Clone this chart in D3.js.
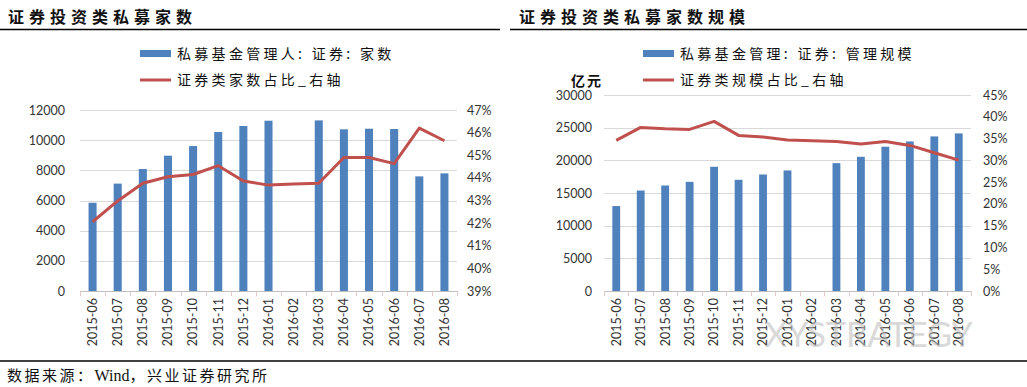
<!DOCTYPE html>
<html><head><meta charset="utf-8">
<script src="https://cdn.jsdelivr.net/npm/d3@7"></script>
<style>body{margin:0;background:#fff;} svg{display:block;}</style>
</head><body>
<svg id="c" width="1027" height="387"></svg>
<script>
const months = ["2015-06","2015-07","2015-08","2015-09","2015-10","2015-11","2015-12","2016-01","2016-02","2016-03","2016-04","2016-05","2016-06","2016-07","2016-08"];
const leftCount = [5850,7120,8090,8970,9610,10540,10940,11290,null,11310,10720,10760,10740,7600,7800];
const leftShare = [42.06,42.98,43.76,44.05,44.15,44.54,43.86,43.68,43.73,43.76,44.9,44.9,44.63,46.2,45.64];
const rightScale = [13000,15380,16150,16710,19010,17020,17830,18450,null,19570,20540,22080,22890,23660,24120];
const rightShare = [34.57,37.56,37.26,37.1,38.94,35.72,35.34,34.65,34.5,34.34,33.73,34.34,33.42,31.74,30.05];
const leftTicks = [0,2000,4000,6000,8000,10000,12000];
const leftPctTicks = [39,40,41,42,43,44,45,46,47];
const rightTicks = [0,5000,10000,15000,20000,25000,30000];
const rightPctTicks = [0,5,10,15,20,25,30,35,40,45];

const svg = d3.select("#c");
const BLUE = "#4F81BD", RED = "#C0504D";
const CJK = "'Noto Sans CJK SC', sans-serif";
const NUM = "Lato, 'Open Sans', sans-serif";

function panel(o){
  const g = svg.append("g");
  g.append("text").attr("x", o.titleX).attr("y", 23).attr("font-family", CJK).attr("font-weight", "bold")
    .attr("font-size", 16).attr("letter-spacing", 5).attr("fill", "#111").text(o.title);
  g.append("line").attr("x1", o.lineX1).attr("x2", o.lineX2).attr("y1", 29.5).attr("y2", 29.5)
    .attr("stroke", "#000").attr("stroke-width", 1.5);
  g.append("rect").attr("x", o.legX).attr("y", 50).attr("width", 31).attr("height", 7).attr("fill", BLUE);
  g.append("text").attr("x", o.legX + 37).attr("y", 59).attr("font-family", CJK).attr("font-size", 14)
    .attr("letter-spacing", 3.3).attr("fill", "#111").text(o.leg1);
  g.append("line").attr("x1", o.legX).attr("x2", o.legX + 31).attr("y1", 80).attr("y2", 80)
    .attr("stroke", RED).attr("stroke-width", 3);
  g.append("text").attr("x", o.legX + 37).attr("y", 85).attr("font-family", CJK).attr("font-size", 14)
    .attr("letter-spacing", 3.3).attr("fill", "#111").text(o.leg2);

  const x = d3.scaleBand().domain(months).range([o.x0, o.x1]).paddingInner(0.68).paddingOuter(0.34);
  const xc = d3.scaleBand().domain(months).range([o.x0, o.x1]);
  const y = d3.scaleLinear().domain(o.yDom).range([o.yb, o.yt]);
  const y2 = d3.scaleLinear().domain(o.y2Dom).range([o.yb, o.yt]);

  g.append("g").selectAll("line").data(o.yTicks.slice(1)).join("line")
    .attr("x1", o.x0).attr("x2", o.x1).attr("y1", d => Math.round(y(d)) + 0.5).attr("y2", d => Math.round(y(d)) + 0.5)
    .attr("stroke", "#D9D9D9").attr("stroke-width", 1);

  const ya = d3.axisLeft(y).tickValues(o.yTicks).tickSize(0).tickPadding(0).tickFormat(d3.format("d"));
  const yag = g.append("g").attr("transform", `translate(${o.yLabelX},0)`).call(ya);
  yag.select(".domain").remove();
  yag.selectAll("text").attr("font-family", NUM).attr("font-size", 12.5).attr("fill", "#333");

  const ya2 = d3.axisRight(y2).tickValues(o.y2Ticks).tickSize(0).tickPadding(0).tickFormat(d => d + "%");
  const ya2g = g.append("g").attr("transform", `translate(${o.y2LabelX},0)`).call(ya2);
  ya2g.select(".domain").remove();
  ya2g.selectAll("text").attr("font-family", NUM).attr("font-size", 12.5).attr("fill", "#333");

  g.append("g").selectAll("rect").data(months.map((m, i) => ({m, v: o.bars[i]})).filter(d => d.v != null)).join("rect")
    .attr("x", d => x(d.m)).attr("width", x.bandwidth())
    .attr("y", d => y(d.v)).attr("height", d => y(0) - y(d.v)).attr("fill", BLUE);

  const xa = d3.axisBottom(xc).tickSize(0).tickPadding(0);
  const xag = g.append("g").attr("transform", `translate(0,${o.yb})`).call(xa);
  xag.select(".domain").attr("stroke", "#BFBFBF");
  xag.selectAll(".tick text").attr("transform", "rotate(-90)").attr("text-anchor", "end")
    .attr("x", -7).attr("y", 0).attr("dy", "0.35em").attr("font-family", NUM).attr("font-size", 12.5).attr("fill", "#333");
  const bounds = months.map(m => xc(m)).concat([o.x1]);
  g.append("g").selectAll("line").data(bounds).join("line")
    .attr("x1", d => Math.round(d) + 0.5).attr("x2", d => Math.round(d) + 0.5)
    .attr("y1", o.yb).attr("y2", o.yb + 5).attr("stroke", "#E6C8C8").attr("stroke-width", 1);

  const line = d3.line().x((d, i) => xc(months[i]) + xc.bandwidth() / 2).y(d => y2(d));
  g.append("path").datum(o.share).attr("d", line).attr("fill", "none")
    .attr("stroke", RED).attr("stroke-width", 3).attr("stroke-linejoin", "round");
}

panel({
  title: "证券投资类私募家数", titleX: 8, lineX1: 0, lineX2: 500,
  legX: 140, leg1: "私募基金管理人: 证券: 家数", leg2: "证券类家数占比_右轴",
  x0: 80, x1: 457, yt: 110, yb: 291, yDom: [0, 12000], y2Dom: [39, 47],
  yTicks: leftTicks, y2Ticks: leftPctTicks, yLabelX: 65, y2LabelX: 467,
  bars: leftCount, share: leftShare
});
panel({
  title: "证券投资类私募家数规模", titleX: 519, lineX1: 510, lineX2: 1027,
  legX: 643, leg1: "私募基金管理: 证券: 管理规模", leg2: "证券类规模占比_右轴",
  x0: 604, x1: 971, yt: 95, yb: 291, yDom: [0, 30000], y2Dom: [0, 45],
  yTicks: rightTicks, y2Ticks: rightPctTicks, yLabelX: 592, y2LabelX: 983,
  bars: rightScale, share: rightShare
});
svg.append("text").attr("x", 571).attr("y", 86).attr("font-family", CJK).attr("font-weight", "bold")
  .attr("font-size", 14).attr("letter-spacing", 2).attr("fill", "#111").text("亿元");

svg.append("text").attr("x", 765).attr("y", 347).attr("font-family", NUM).attr("font-size", 34)
  .attr("fill", "#bbb").attr("opacity", 0.55).text("XYSTRATEGY");

svg.append("line").attr("x1", 0).attr("x2", 1027).attr("y1", 361).attr("y2", 361).attr("stroke", "#000").attr("stroke-width", 1.5);
const src = svg.append("text").attr("x", 7).attr("y", 381).attr("font-family", "'Liberation Serif', 'Noto Sans CJK SC', serif")
  .attr("font-size", 15).attr("fill", "#111");
src.append("tspan").attr("letter-spacing", 2.5).text("数据来源：");
src.append("tspan").attr("font-size", 16).text("Wind");
src.append("tspan").attr("letter-spacing", 2.5).text("，兴业证券研究所");
</script>
</body></html>
